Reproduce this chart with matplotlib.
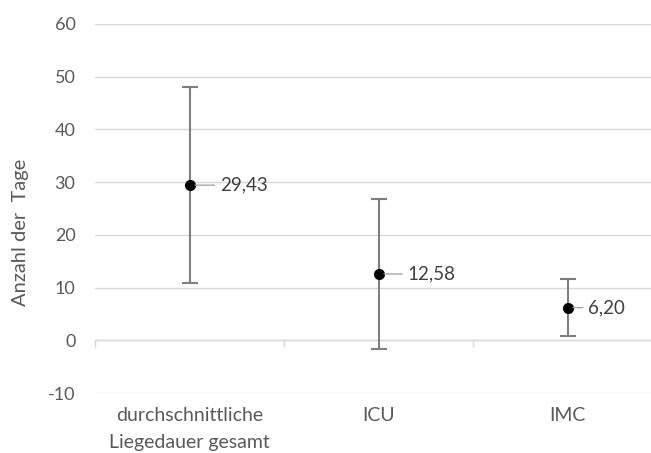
"""Mean length of stay with standard-deviation bars per ward type."""

import matplotlib

matplotlib.use("Agg")
import matplotlib.pyplot as plt
import numpy as np

categories = ["durchschnittliche\nLiegedauer gesamt", "ICU", "IMC"]
means = [29.43, 12.58, 6.20]
std_devs = [18.65, 14.30, 5.40]
y_ticks = [-10, 0, 10, 20, 30, 40, 50, 60]

TEXT_GREY = "#595959"
GRID_GREY = "#d9d9d9"

plt.rcParams["font.family"] = ["Lato", "DejaVu Sans"]
plt.rcParams["axes.unicode_minus"] = False

fig = plt.figure(figsize=(6.51, 4.53), dpi=100)
# Plot area in figure fractions; the last category slot runs past the right edge.
ax = fig.add_axes([95 / 651, 60 / 453, 567 / 651, 369 / 453])

x = np.arange(len(categories))
ax.errorbar(
    x,
    means,
    yerr=std_devs,
    fmt="none",
    ecolor="#7f7f7f",
    elinewidth=1.5,
    capsize=6,
    capthick=1.5,
    zorder=3,
)
ax.plot(x, means, "o", color="black", markersize=7, zorder=4, linestyle="none")

# Value labels with a short leader line back to the point.
label_offsets = [22, 21, 15]
for xi, m, off in zip(x, means, label_offsets):
    ax.annotate(
        f"{m:.2f}".replace(".", ","),
        xy=(xi, m),
        xytext=(off, 0),
        textcoords="offset points",
        ha="left",
        va="center",
        fontsize=13.5,
        color="#404040",
        arrowprops=dict(arrowstyle="-", color="#a6a6a6", lw=1.0, shrinkA=2, shrinkB=4),
        zorder=5,
    )

ax.set_xlim(-0.5, len(categories) - 0.5)
ax.set_ylim(-10, 60)
ax.set_yticks(y_ticks)
ax.grid(axis="y", color=GRID_GREY, linewidth=1.0, zorder=0)
ax.set_axisbelow(True)

for side in ("top", "right", "left"):
    ax.spines[side].set_visible(False)
ax.spines["bottom"].set_position(("data", 0))
ax.spines["bottom"].set_color(GRID_GREY)
ax.spines["bottom"].set_linewidth(1.0)

ax.tick_params(axis="y", length=0, pad=14, labelsize=13, labelcolor=TEXT_GREY)
ax.set_xticks(x)
ax.set_xticklabels(categories, fontsize=14, color=TEXT_GREY, linespacing=1.7)
ax.tick_params(axis="x", which="major", length=0, pad=48)
ax.set_xticks(np.arange(len(categories) + 1) - 0.5, minor=True)
ax.tick_params(axis="x", which="minor", length=5, width=1.0, color=GRID_GREY, direction="out")

ax.set_ylabel("Anzahl der  Tage", fontsize=14.5, color=TEXT_GREY, va="center")
ax.yaxis.set_label_coords(-0.132, 0.436)

fig.savefig("out.png", dpi=100)
plt.close(fig)
